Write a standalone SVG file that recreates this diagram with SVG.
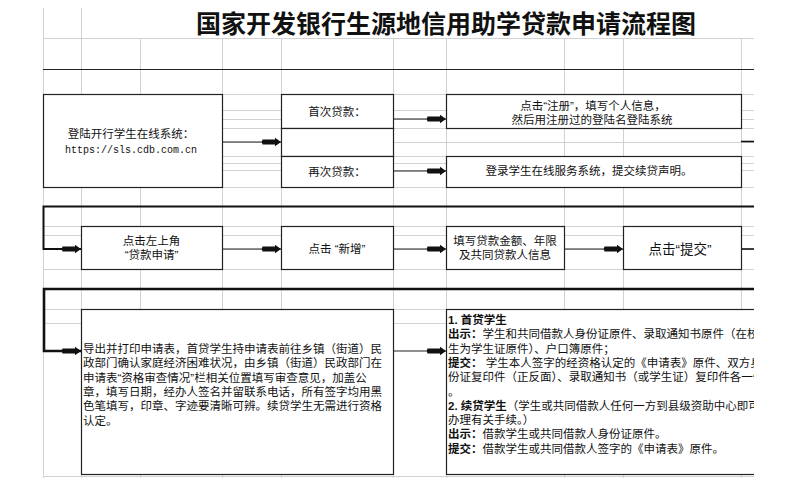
<svg xmlns="http://www.w3.org/2000/svg" width="800" height="484" viewBox="0 0 800 484">
<style>
.g{stroke:#d2d2d2;stroke-width:1;fill:none}
.box{fill:#fff;stroke:#222;stroke-width:1.2}
.t{font-family:"Liberation Sans","Noto Sans CJK SC",sans-serif;font-size:11.5px;fill:#111}
.c{text-anchor:middle}
.b{font-weight:bold}
.con{stroke:#222;stroke-width:1.2;fill:none}
.wrap{stroke:#111;fill:none}
</style>
<defs>
<marker id="ah" markerUnits="userSpaceOnUse" markerWidth="20" markerHeight="10" refX="20" refY="5" orient="auto">
<path d="M1.5,2.6 L14,2.6 L14,0.8 L20,5 L14,9.2 L14,7.4 L1.5,7.4 Q0,5 1.5,2.6 Z" fill="#111"/>
</marker>
<clipPath id="rc"><rect x="440" y="300" width="314" height="180"/></clipPath>
</defs>
<rect width="800" height="484" fill="#fff"/>
<g id="grid">
<path class="g" d="M43.5,8V478M81.5,8V478M140.5,38V478M222.5,38V478M281.5,38V478M393.5,38V478M446.5,38V478M564.5,38V478M623.5,38V478M741.5,38V478"/>
<path class="g" d="M43,38.5H754M43,94.5H754M43,110.5H754M43,119.5H754M43,128.5H754M43,142.5H754M43,156.5H754M43,163.5H754M43,170.5H754M43,187.5H754M43,226.5H754M43,235.5H754M43,249.5H754M43,269.5H754M43,309.5H754M43,323.5H754M43,476.5H754"/>
</g>
<text class="t b c" x="446" y="33" style="font-size:25px">国家开发银行生源地信用助学贷款申请流程图</text>
<g id="connectors">
<path class="con" d="M43,69.5H754"/>
<path class="con" d="M222,142H281" marker-end="url(#ah)"/>
<path class="con" d="M393,119H446" marker-end="url(#ah)"/>
<path class="con" d="M393,171H446" marker-end="url(#ah)"/>
<path class="wrap" stroke-width="1.6" d="M741,141.5H754"/>
<path class="wrap" stroke-width="2" d="M754,206.5H43.5V249H81" marker-end="url(#ah)"/>
<path class="con" d="M222,249H281" marker-end="url(#ah)"/>
<path class="con" d="M393,249H446" marker-end="url(#ah)"/>
<path class="con" d="M564,249H623" marker-end="url(#ah)"/>
<path class="wrap" stroke-width="1.6" d="M741,249H754"/>
<path class="wrap" stroke-width="2.6" d="M754,289H44V351H81" marker-end="url(#ah)"/>
<path class="con" d="M393,351H446" marker-end="url(#ah)"/>
</g>
<g id="login">
<rect class="box" x="43.5" y="94.5" width="179" height="93"/>
<text class="t c" x="131" y="138">登陆开行学生在线系统：</text>
<text class="t c" x="131" y="153" style="font-family:'Liberation Mono',monospace;font-size:10px">https://sls.cdb.com.cn</text>
</g>
<g id="first">
<rect class="box" x="281.5" y="94.5" width="112" height="34"/>
<text class="t c" x="337" y="116">首次贷款：</text>
</g>
<g id="middle">
<rect class="box" x="281.5" y="128.5" width="112" height="28"/>
</g>
<g id="again">
<rect class="box" x="281.5" y="156.5" width="112" height="31"/>
<text class="t c" x="337" y="175.5">再次贷款：</text>
</g>
<g id="register">
<rect class="box" x="446.5" y="94.5" width="295" height="34"/>
<text class="t c" x="593" y="110">点击“注册”，填写个人信息，</text>
<text class="t c" x="592" y="123.5">然后用注册过的登陆名登陆系统</text>
</g>
<g id="renew">
<rect class="box" x="446.5" y="156.5" width="295" height="31"/>
<text class="t c" x="589" y="175">登录学生在线服务系统，提交续贷声明。</text>
</g>
<g id="apply">
<rect class="box" x="81.5" y="226.5" width="141" height="43"/>
<text class="t c" x="151.5" y="245">点击左上角</text>
<text class="t c" x="151.5" y="258.5">“贷款申请”</text>
</g>
<g id="add">
<rect class="box" x="281.5" y="226.5" width="112" height="43"/>
<text class="t c" x="337" y="253">点击 “新增”</text>
</g>
<g id="fill">
<rect class="box" x="446.5" y="226.5" width="118" height="43"/>
<text class="t c" x="505" y="245">填写贷款金额、年限</text>
<text class="t c" x="505" y="259">及共同贷款人信息</text>
</g>
<g id="submit">
<rect class="box" x="623.5" y="226.5" width="118" height="43"/>
<text class="t c" x="680" y="254" style="font-size:13.5px">点击“提交”</text>
</g>
<g id="print">
<rect class="box" x="81.5" y="309.5" width="312" height="165"/>
<text class="t" x="83" y="353">导出并打印申请表，首贷学生持申请表前往乡镇（街道）民</text>
<text class="t" x="83" y="367.3">政部门确认家庭经济困难状况，由乡镇（街道）民政部门在</text>
<text class="t" x="83" y="381.6">申请表“资格审查情况”栏相关位置填写审查意见，加盖公</text>
<text class="t" x="83" y="395.9">章，填写日期，经办人签名并留联系电话，所有签字均用黑</text>
<text class="t" x="83" y="410.2">色笔填写，印章、字迹要清晰可辨。续贷学生无需进行资格</text>
<text class="t" x="83" y="424.5">认定。</text>
</g>
<g id="documents" clip-path="url(#rc)">
<rect class="box" x="446.5" y="309.5" width="320" height="165"/>
<text class="t b" x="448" y="324">1. 首贷学生</text>
<text class="t" x="448" y="338.3"><tspan class="b">出示：</tspan>学生和共同借款人身份证原件、录取通知书原件（在校</text>
<text class="t" x="448" y="352.6">生为学生证原件）、户口簿原件；</text>
<text class="t" x="448" y="366.9"><tspan class="b">提交：</tspan> 学生本人签字的经资格认定的《申请表》原件、双方身</text>
<text class="t" x="448" y="381.2">份证复印件（正反面）、录取通知书（或学生证）复印件各一份</text>
<text class="t" x="448" y="395.5">。</text>
<text class="t" x="448" y="409.8"><tspan class="b">2. 续贷学生</tspan>（学生或共同借款人任何一方到县级资助中心即可</text>
<text class="t" x="448" y="424.1">办理有关手续。）</text>
<text class="t" x="448" y="438.4"><tspan class="b">出示：</tspan>借款学生或共同借款人身份证原件。</text>
<text class="t" x="448" y="452.7"><tspan class="b">提交：</tspan>借款学生或共同借款人签字的《申请表》原件。</text>
</g>
</svg>
